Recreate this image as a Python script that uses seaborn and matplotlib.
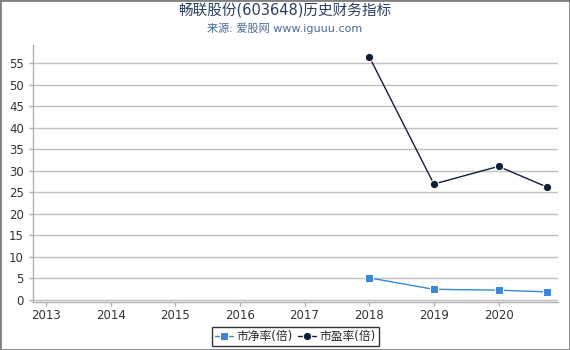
import matplotlib
matplotlib.use("Agg")
import matplotlib.pyplot as plt
import seaborn as sns
import pandas as pd
from matplotlib.patches import Rectangle

years = [2018, 2019, 2020, 2020.75]
pb = [5.1, 2.45, 2.25, 1.85]
pe = [56.5, 26.9, 31.0, 26.2]
xticks = [2013, 2014, 2015, 2016, 2017, 2018, 2019, 2020]
yticks = list(range(0, 60, 5))
title = "畅联股份(603648)历史财务指标"
subtitle = "来源: 爱股网 www.iguuu.com"
labels = ["市净率(倍)", "市盈率(倍)"]

sns.set_style("white")
plt.rcParams['font.family'] = ['DejaVu Sans', 'Noto Sans CJK SC']

df = pd.DataFrame({"year": years * 2, "value": pb + pe,
                   "series": [labels[0]] * len(pb) + [labels[1]] * len(pe)})

fig = plt.figure(figsize=(5.7, 3.5), dpi=100)
ax = fig.add_axes([33/570, 48/350, (558-33)/570, (302-45)/350])

sns.lineplot(data=df, x="year", y="value", hue="series", style="series",
             palette={labels[0]: "#3a87d8", labels[1]: "#0f1f38"},
             markers={labels[0]: "s", labels[1]: "o"}, dashes=False,
             linewidth=1, markersize=6, ax=ax, legend=True)

ax.set_xlim(2012.8, 2020.92)
ax.set_ylim(-0.5, 59.2)
ax.set_xticks(xticks)
ax.set_xticklabels([str(x) for x in xticks])
ax.set_yticks(yticks)
ax.set_xlabel("")
ax.set_ylabel("")
ax.grid(axis="y", color="#c0c0c0", linewidth=1)
ax.set_axisbelow(True)
for s in ["top", "right"]:
    ax.spines[s].set_visible(False)
for s in ["left", "bottom"]:
    ax.spines[s].set_color("#b0b0b0")
    ax.spines[s].set_linewidth(1)
ax.tick_params(axis="both", colors="#b0b0b0", labelcolor="#333333",
               labelsize=8.5, length=3, width=1, direction="out", left=True, bottom=True)
ax.tick_params(axis="x", pad=2)

h, l = ax.get_legend_handles_labels()
leg = ax.legend(h, l, loc="upper center", bbox_to_anchor=(0.5, -0.075), ncol=2,
                frameon=True, fancybox=False, fontsize=8.5, handlelength=1.5,
                handletextpad=0.3, columnspacing=0.5, borderpad=0.25,
                edgecolor="black")
leg.get_frame().set_linewidth(1)

fig.text(0.5, 1 - 11/350, title, ha="center", va="center", fontsize=10.5, color="#2a3f5f")
fig.text(0.5, 1 - 28/350, subtitle, ha="center", va="center", fontsize=8, color="#4a6a9a")

fig.patches.append(Rectangle((0, 0), 1, 1, transform=fig.transFigure, fill=False,
                             edgecolor="#808080", linewidth=2))

fig.savefig("out.png", dpi=100)
